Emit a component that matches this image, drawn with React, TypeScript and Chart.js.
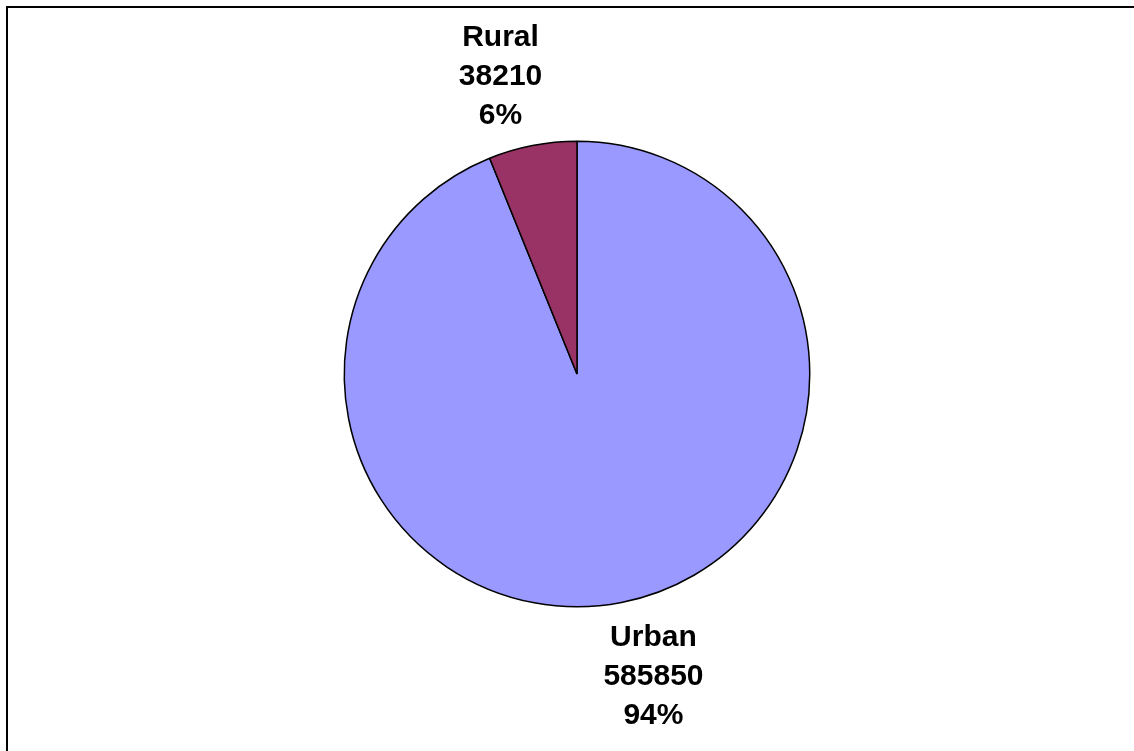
import React, { useEffect, useRef } from "react";
import { Chart, registerables } from "chart.js";

Chart.register(...registerables);

const categories = ["Urban", "Rural"];
const values = [585850, 38210];
const colors = ["#9999FF", "#993366"];

const labelPlugin = {
  id: "outerLabels",
  afterDatasetsDraw(chart: any) {
    const ctx = chart.ctx;
    const meta = chart.getDatasetMeta(0);
    const data = chart.data.datasets[0].data as number[];
    const total = data.reduce((a, b) => a + b, 0);
    ctx.save();
    ctx.fillStyle = "#000000";
    ctx.font = "bold 30px 'Liberation Sans', Arial, sans-serif";
    ctx.textAlign = "center";
    ctx.textBaseline = "middle";
    meta.data.forEach((arc: any, i: number) => {
      const p = arc.getProps(["x", "y", "startAngle", "endAngle", "outerRadius"], true);
      const mid = (p.startAngle + p.endAngle) / 2;
      const d = p.outerRadius + 73;
      const cx = p.x + Math.cos(mid) * d + Math.sign(Math.cos(mid)) * 18;
      const cy = p.y + Math.sin(mid) * d + 2.5;
      const lines = [
        String(chart.data.labels[i]),
        String(data[i]),
        Math.round((data[i] / total) * 100) + "%",
      ];
      lines.forEach((t, k) => ctx.fillText(t, cx, cy + (k - 1) * 39));
    });
    ctx.restore();
  },
};

export default function App() {
  const ref = useRef<HTMLCanvasElement | null>(null);
  useEffect(() => {
    if (!ref.current) return;
    const chart = new Chart(ref.current, {
      type: "pie",
      data: {
        labels: categories,
        datasets: [
          {
            data: values,
            backgroundColor: colors,
            borderColor: "#000000",
            borderWidth: 1.5,
          },
        ],
      },
      options: {
        responsive: false,
        animation: false,
        layout: { padding: { top: 140.5, bottom: 143.5, left: 277, right: 257 } },
        plugins: { legend: { display: false }, tooltip: { enabled: false } },
      },
      plugins: [labelPlugin],
    });
    return () => chart.destroy();
  }, []);
  return (
    <div style={{ position: "fixed", left: 0, top: 0, width: 1134, height: 751, overflow: "hidden", background: "#fff" }}>
      <canvas ref={ref} width={1134} height={751} style={{ position: "absolute", left: 0, top: 0 }} />
      <div
        style={{
          position: "absolute",
          left: 6,
          top: 6,
          width: 1300,
          height: 900,
          borderLeft: "2px solid #000",
          borderTop: "2px solid #000",
          pointerEvents: "none",
        }}
      />
    </div>
  );
}
